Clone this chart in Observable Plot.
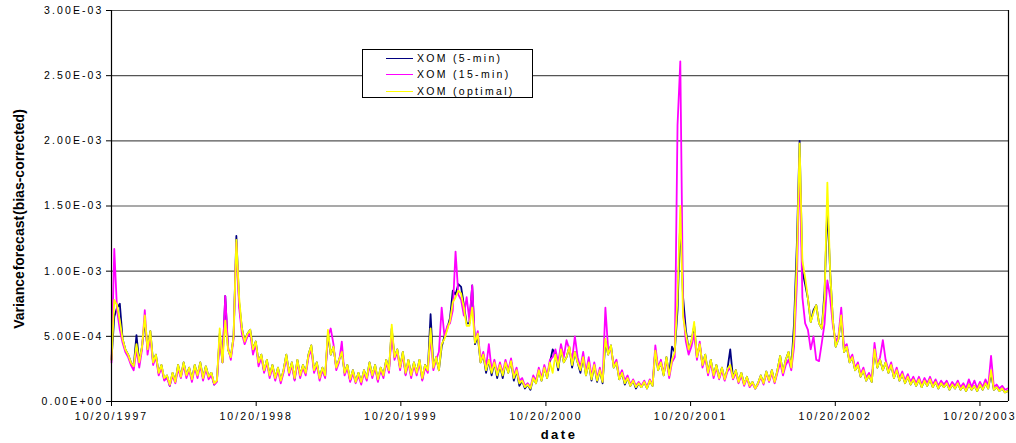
<!DOCTYPE html>
<html>
<head>
<meta charset="utf-8">
<script src="https://cdn.jsdelivr.net/npm/d3@7"></script>
<script src="https://cdn.jsdelivr.net/npm/@observablehq/plot@0.6"></script>
<style>
  body { margin: 0; background: white; }
  #wrap { position: relative; width: 1016px; height: 443px; overflow: hidden; font-family: "Liberation Sans", Arial, sans-serif; }
  #legend { position: absolute; left: 362px; top: 49px; width: 169px; height: 47px; border: 1px solid #000; background: #fff; }
  .lrow { position: absolute; left: 0; height: 14px; }
  .lline { position: absolute; left: 23px; width: 27px; height: 1px; top: 7px; }
  .ltext { position: absolute; left: 54px; top: 0; font-size: 10.5px; letter-spacing: 2.3px; line-height: 14px; white-space: nowrap; color: #000; }
  #ytitle { position: absolute; left: 19px; top: 219px; transform: translate(-50%, -50%) rotate(-90deg); font-weight: bold; font-size: 14px; word-spacing: -3px; white-space: nowrap; }
  #xtitle { position: absolute; left: 559px; top: 434px; transform: translate(-50%, -50%); font-weight: bold; font-size: 13px; letter-spacing: 2.5px; white-space: nowrap; }
</style>
</head>
<body>
<div id="wrap"></div>
<script>
// values in units of 1e-5 (weekly samples starting 10/20/1997)
const xom5min = [
32, 65, 72, 75, 48, 40, 36, 30, 27, 51,
30, 42, 62, 40, 54, 30, 36, 22, 28, 17,
20, 12, 22, 15, 28, 19, 30, 20, 26, 17,
28, 20, 30, 18, 27, 19, 22, 13, 16, 52,
30, 81, 40, 34, 50, 127, 76, 56, 46, 52,
55, 40, 46, 30, 36, 23, 32, 20, 28, 18,
26, 16, 24, 36, 22, 30, 17, 32, 20, 28,
22, 36, 43, 24, 30, 18, 26, 19, 52, 36,
42, 26, 32, 38, 22, 28, 16, 24, 15, 22,
15, 24, 18, 30, 20, 28, 16, 26, 20, 32,
24, 56, 34, 40, 26, 38, 21, 32, 20, 30,
22, 32, 17, 28, 24, 67, 26, 34, 24, 42,
50, 56, 64, 85, 82, 90, 88, 74, 60, 60,
89, 44, 50, 30, 36, 22, 32, 20, 30, 18,
28, 18, 30, 22, 31, 16, 24, 12, 16, 10,
13, 9, 18, 14, 24, 16, 26, 18, 30, 40,
36, 24, 40, 30, 34, 42, 26, 38, 30, 22,
34, 20, 30, 16, 28, 15, 24, 14, 46, 36,
43, 26, 30, 17, 22, 13, 18, 12, 16, 10,
14, 11, 15, 10, 16, 12, 39, 24, 30, 20,
34, 20, 42, 38, 70, 140, 80, 55, 40, 46,
58, 34, 44, 28, 36, 22, 32, 20, 28, 18,
26, 17, 25, 40, 18, 24, 15, 22, 13, 19,
12, 15, 10, 14, 20, 14, 23, 16, 24, 15,
24, 35, 22, 32, 38, 26, 60, 120, 200, 100,
90, 79, 61, 70, 74, 60, 56, 85, 150, 100,
62, 42, 48, 66, 38, 42, 30, 34, 24, 28,
19, 24, 16, 20, 15, 40, 26, 32, 24, 30,
22, 28, 18, 24, 16, 21, 14, 19, 13, 17,
12, 17, 11, 16, 12, 17, 11, 15, 10, 14,
11, 14, 9, 13, 10, 14, 9, 12, 8, 13,
9, 12, 8, 13, 9, 14, 10, 22, 9, 11,
8, 10, 7, 8
];
const xom15min = [
30, 117, 70, 55, 45, 38, 34, 28, 24, 40,
26, 40, 70, 36, 50, 28, 34, 20, 26, 16,
18, 12, 20, 14, 25, 18, 28, 18, 24, 15,
26, 18, 28, 16, 25, 17, 20, 13, 15, 48,
30, 81, 42, 32, 48, 122, 72, 52, 44, 50,
52, 36, 44, 27, 34, 22, 30, 18, 26, 16,
24, 14, 22, 34, 20, 28, 16, 30, 18, 26,
20, 34, 40, 22, 28, 16, 24, 18, 50, 56,
44, 24, 30, 46, 20, 26, 15, 22, 14, 20,
13, 22, 16, 28, 18, 26, 15, 24, 18, 30,
22, 52, 32, 38, 24, 36, 20, 30, 18, 28,
20, 30, 16, 26, 22, 50, 24, 32, 38, 72,
50, 58, 60, 70, 115, 82, 78, 66, 80, 62,
89, 46, 54, 32, 38, 26, 44, 24, 32, 22,
30, 22, 32, 24, 33, 20, 26, 16, 18, 12,
14, 11, 20, 16, 26, 18, 28, 20, 32, 34,
40, 30, 44, 34, 47, 40, 32, 50, 34, 26,
38, 22, 34, 19, 30, 18, 26, 16, 72, 40,
40, 28, 32, 19, 24, 16, 20, 13, 17, 12,
15, 12, 16, 11, 17, 13, 43, 26, 32, 22,
32, 18, 30, 34, 212, 261, 70, 46, 36, 42,
52, 32, 46, 26, 34, 20, 30, 18, 26, 17,
24, 16, 23, 26, 17, 22, 14, 20, 12, 18,
11, 14, 10, 13, 19, 13, 22, 15, 22, 14,
22, 30, 20, 28, 32, 24, 42, 90, 187, 80,
60, 55, 40, 50, 32, 31, 45, 60, 93, 80,
58, 46, 50, 72, 42, 44, 32, 36, 26, 30,
21, 26, 18, 22, 17, 45, 28, 34, 47, 32,
24, 30, 20, 26, 18, 23, 16, 21, 15, 19,
14, 19, 13, 18, 14, 19, 13, 17, 12, 16,
13, 16, 11, 15, 12, 16, 11, 14, 10, 17,
11, 16, 10, 15, 11, 17, 12, 35, 11, 13,
10, 12, 9, 10
];
const xomOptimal = [
32, 78, 74, 62, 48, 40, 36, 30, 27, 44,
30, 42, 66, 40, 54, 30, 36, 22, 28, 18,
20, 13, 22, 15, 28, 19, 30, 20, 26, 17,
28, 20, 30, 18, 27, 19, 22, 14, 16, 56,
30, 62, 40, 34, 50, 124, 80, 56, 46, 52,
55, 40, 46, 30, 36, 24, 32, 20, 28, 18,
26, 16, 24, 36, 22, 30, 18, 32, 20, 28,
22, 36, 43, 24, 30, 18, 26, 20, 55, 36,
42, 26, 32, 38, 22, 28, 17, 24, 15, 22,
15, 24, 18, 30, 20, 28, 17, 26, 20, 32,
24, 59, 34, 40, 26, 38, 22, 32, 20, 30,
22, 32, 18, 28, 24, 56, 26, 34, 24, 44,
48, 55, 62, 76, 80, 85, 83, 72, 58, 58,
72, 45, 52, 30, 36, 24, 32, 22, 30, 20,
28, 20, 30, 22, 31, 18, 24, 14, 16, 11,
13, 10, 18, 14, 24, 16, 26, 18, 30, 22,
36, 26, 40, 30, 34, 42, 28, 38, 30, 24,
34, 20, 30, 17, 28, 16, 24, 15, 48, 36,
43, 26, 30, 17, 22, 14, 18, 12, 16, 11,
14, 11, 15, 10, 16, 12, 39, 24, 30, 20,
34, 20, 32, 38, 80, 150, 65, 52, 40, 46,
61, 34, 44, 28, 36, 22, 32, 20, 28, 18,
26, 17, 25, 28, 18, 24, 15, 22, 13, 19,
12, 15, 10, 14, 20, 14, 23, 16, 24, 15,
24, 35, 22, 32, 38, 26, 50, 108, 198, 108,
95, 79, 61, 68, 74, 60, 56, 80, 168, 100,
62, 42, 48, 66, 38, 42, 30, 34, 24, 28,
19, 24, 16, 20, 15, 40, 26, 32, 24, 30,
22, 28, 18, 24, 16, 21, 14, 19, 13, 17,
12, 17, 11, 16, 12, 17, 11, 15, 10, 14,
11, 14, 9, 13, 10, 14, 9, 12, 8, 13,
9, 12, 8, 13, 9, 14, 10, 24, 9, 11,
8, 10, 7, 8
];
const seriesNames = ["XOM (5-min)", "XOM (15-min)", "XOM (optimal)"];
const seriesColors = ["#000080", "#FF00FF", "#FFFF00"];
const yTicks = [0, 0.0005, 0.001, 0.0015, 0.002, 0.0025, 0.003];
const yTickLabels = ["0.00E+00", "5.00E-04", "1.00E-03", "1.50E-03", "2.00E-03", "2.50E-03", "3.00E-03"];
const xTickYears = [1997, 1998, 1999, 2000, 2001, 2002, 2003];
const xTickLabels = ["10/20/1997", "10/20/1998", "10/20/1999", "10/20/2000", "10/20/2001", "10/20/2002", "10/20/2003"];

const start = new Date(Date.UTC(1997, 9, 20));
const end = new Date(Date.UTC(2003, 11, 31));
const dates = xom5min.map((_, i) => d3.utcDay.offset(start, 7 * i));
const xTicks = xTickYears.map(y => new Date(Date.UTC(y, 9, 20)));
const toRows = (vals, name) => vals.map((v, i) => ({date: dates[i], value: v * 1e-5, series: name}));
const allSeries = [xom5min, xom15min, xomOptimal].map((v, k) => toRows(v, seriesNames[k]));

const chart = Plot.plot({
  width: 1016,
  height: 443,
  marginLeft: 111,
  marginRight: 8,
  marginTop: 10,
  marginBottom: 42,
  style: {fontFamily: "'Liberation Sans', Arial, sans-serif", fontSize: "10.5px", letterSpacing: "2.1px", background: "white", color: "black"},
  x: {type: "utc", domain: [start, end]},
  y: {domain: [0, 0.003]},
  marks: [
    Plot.ruleY(yTicks.slice(1), {stroke: "#555", strokeWidth: 1.2}),
    ...allSeries.map((rows, k) => Plot.line(rows, {x: "date", y: "value", stroke: seriesColors[k], strokeWidth: 1.8})),
    Plot.ruleX([start], {stroke: "black", strokeWidth: 1.2}),
    Plot.ruleX([end], {stroke: "black", strokeWidth: 1.2}),
    Plot.ruleY([0], {stroke: "black", strokeWidth: 1.2}),
    Plot.axisY({ticks: yTicks, tickFormat: d => yTickLabels[yTicks.indexOf(d)], tickSize: 5, tickPadding: 3, label: null, stroke: "black"}),
    Plot.axisX({ticks: xTicks, tickFormat: d => xTickLabels[xTicks.findIndex(t => +t === +d)], tickSize: 5, tickPadding: 6, label: null, stroke: "black"})
  ]
});

const wrap = document.getElementById("wrap");
wrap.appendChild(chart);

const legend = document.createElement("div");
legend.id = "legend";
seriesNames.forEach((name, k) => {
  const row = document.createElement("div");
  row.className = "lrow";
  row.style.top = (1 + k * 16.3) + "px";
  const line = document.createElement("div");
  line.className = "lline";
  line.style.background = seriesColors[k];
  const text = document.createElement("div");
  text.className = "ltext";
  text.textContent = name;
  row.appendChild(line);
  row.appendChild(text);
  legend.appendChild(row);
});
wrap.appendChild(legend);

const yt = document.createElement("div");
yt.id = "ytitle";
yt.textContent = "Variance forecast (bias-corrected)";
wrap.appendChild(yt);
const xt = document.createElement("div");
xt.id = "xtitle";
xt.textContent = "date";
wrap.appendChild(xt);
</script>
</body>
</html>
